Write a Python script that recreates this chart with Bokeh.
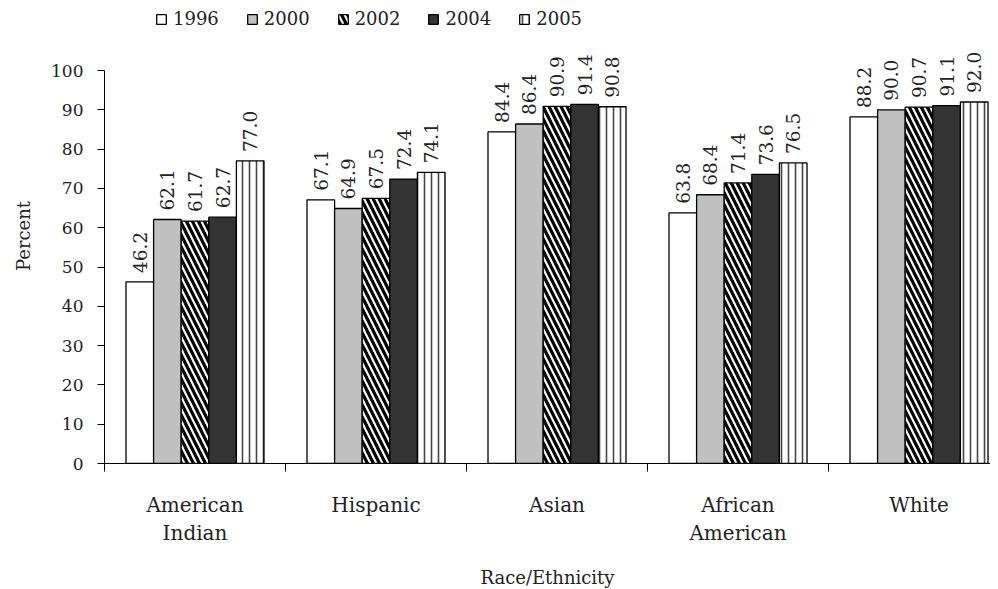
import math
from bokeh.plotting import figure
from bokeh.models import ColumnDataSource, FixedTicker, Legend, LegendItem, Range1d
from bokeh.core.properties import value
from bokeh.embed import file_html
from bokeh.resources import INLINE

categories = ["American\nIndian", "Hispanic", "Asian", "African\nAmerican", "White"]
years = ["1996", "2000", "2002", "2004", "2005"]
v1996 = [46.2, 67.1, 84.4, 63.8, 88.2]
v2000 = [62.1, 64.9, 86.4, 68.4, 90.0]
v2002 = [61.7, 67.5, 90.9, 71.4, 90.7]
v2004 = [62.7, 72.4, 91.4, 73.6, 91.1]
v2005 = [77.0, 74.1, 90.8, 76.5, 92.0]
y_ticks = list(range(0, 101, 10))

series = [v1996, v2000, v2002, v2004, v2005]
styles = [
    dict(fill_color="white"),
    dict(fill_color="#c0c0c0"),
    dict(fill_color="white", hatch_pattern="left_diagonal_line", hatch_color="black",
         hatch_scale=12, hatch_weight=3.2),
    dict(fill_color="#333333"),
    dict(fill_color="white", hatch_pattern="vertical_line", hatch_color="#444444",
         hatch_scale=7, hatch_weight=1.6),
]

FONT = "DejaVu Serif"
centers = list(range(1, len(categories) + 1))
bw = 0.1525

p = figure(frame_width=886, frame_height=455,
           x_range=Range1d(0.5, 5.395), y_range=Range1d(0, 115.8),
           output_backend="svg", toolbar_location=None,
           min_border_left=104, min_border_top=8, min_border_right=0,
           min_border_bottom=126)
p.outline_line_color = None
p.xgrid.visible = False
p.ygrid.visible = False
p.background_fill_color = "white"

items = []
for i, (yr, vals, st) in enumerate(zip(years, series, styles)):
    xs = [c + (i - 2) * bw for c in centers]
    src = ColumnDataSource(dict(x=xs, top=vals, lab=[f"{v:.1f}" for v in vals]))
    r = p.vbar(x="x", top="top", width=bw, source=src, line_color="black",
               line_width=1.3, **st)
    p.text(x="x", y="top", text="lab", source=src, angle=math.pi / 2,
           text_align="left", text_baseline="middle", y_offset=-9,
           text_font=value(FONT), text_font_size="18.5px", text_color="#222222")
    items.append(LegendItem(label=yr, renderers=[r]))

legend = Legend(items=items, orientation="horizontal", location=(51, 434),
                label_text_font=FONT, label_text_font_size="18px",
                glyph_width=12, glyph_height=12, label_standoff=6, spacing=27,
                padding=0, margin=0, border_line_color=None,
                background_fill_alpha=0, label_text_color="#222222")
p.add_layout(legend, "center")

ya = p.yaxis[0]
ya.ticker = FixedTicker(ticks=y_ticks)
ya.bounds = (0, 100)
ya.major_tick_out = 7
ya.major_tick_in = 0
ya.minor_tick_out = 0
ya.minor_tick_in = 0
ya.axis_line_color = "black"
ya.major_tick_line_color = "black"
ya.major_label_text_font = FONT
ya.major_label_text_font_size = "17px"
ya.major_label_text_color = "#222222"
ya.major_label_standoff = 14
ya.axis_label = "Percent"
ya.axis_label_text_font = FONT
ya.axis_label_text_font_size = "18px"
ya.axis_label_text_font_style = "normal"
ya.axis_label_text_color = "#222222"
ya.axis_label_standoff = 14

xa = p.xaxis[0]
xa.ticker = FixedTicker(ticks=centers, minor_ticks=[c - 0.5 for c in centers] + [5.5])
xa.major_tick_out = 0
xa.major_tick_in = 0
xa.minor_tick_out = 8
xa.minor_tick_in = 0
xa.minor_tick_line_color = "black"
xa.axis_line_color = "black"
xa.major_label_overrides = {c: lab for c, lab in zip(centers, categories)}
xa.major_label_text_font = FONT
xa.major_label_text_font_size = "20px"
xa.major_label_text_color = "#222222"
xa.major_label_standoff = 21
xa.axis_label = "Race/Ethnicity"
xa.axis_label_text_font = FONT
xa.axis_label_text_font_size = "18px"
xa.axis_label_text_font_style = "normal"
xa.axis_label_text_color = "#222222"
xa.axis_label_standoff = 19

open("out.html", "w").write(file_html(p, INLINE))
